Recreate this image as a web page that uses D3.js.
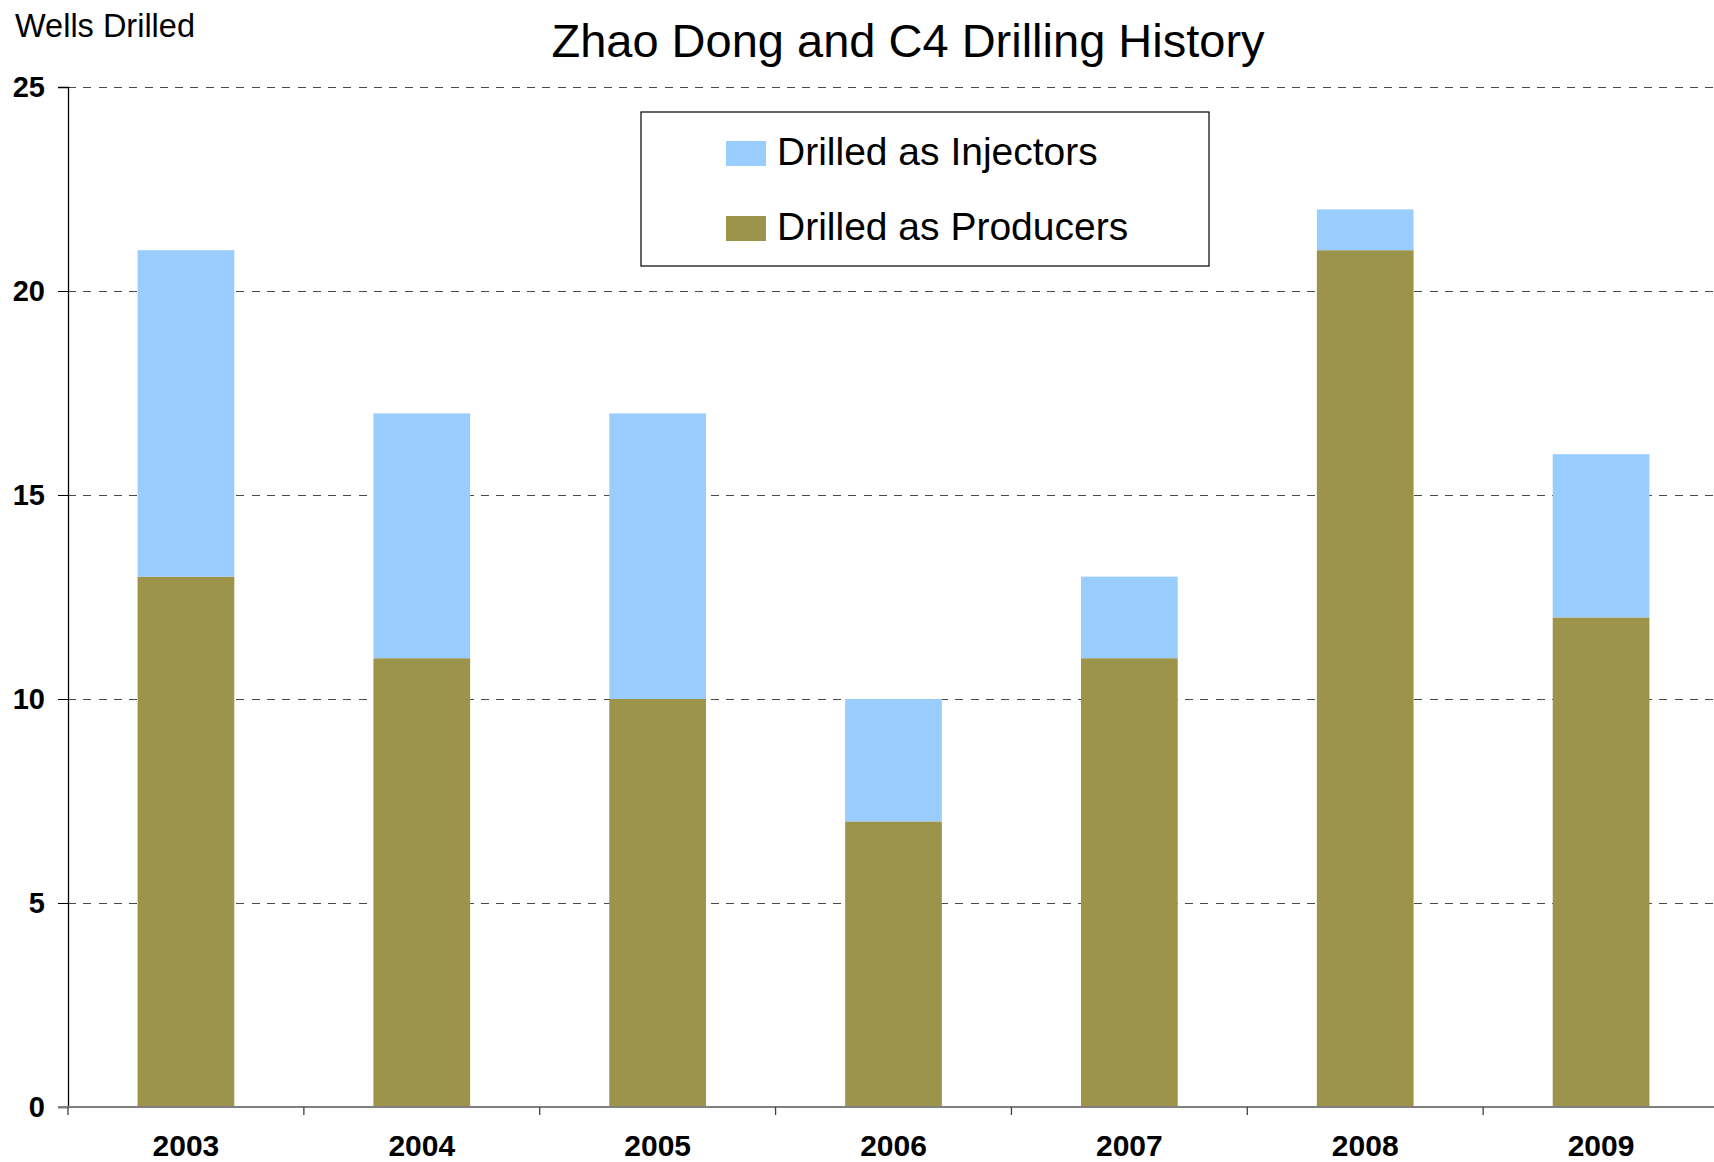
<!DOCTYPE html>
<html lang="en">
<head>
  <meta charset="UTF-8">
  <title>Zhao Dong and C4 Drilling History</title>
  <script src="https://d3js.org/d3.v7.min.js"></script>
  <style>
    body { margin: 0; background: #fff; }
    svg { font-family: "Liberation Sans", Arial, sans-serif; display: block; }
  </style>
</head>
<body>
  <svg id="chart"></svg>

  <script>
    // chart data
    const years = ["2003", "2004", "2005", "2006", "2007", "2008", "2009"];
    const producers = [13, 11, 10, 7, 11, 21, 12];
    const injectors = [8, 6, 7, 3, 2, 1, 4];
    const yTicks = [0, 5, 10, 15, 20, 25];
    const seriesNames = ["Drilled as Injectors", "Drilled as Producers"];

    const colors = { producers: "#9C944A", injectors: "#99CCFF" };

    const W = 1714, H = 1162;
    const margin = { top: 87, right: -5, bottom: 55, left: 68 };

    const svg = d3.select("#chart").attr("width", W).attr("height", H);

    const rows = years.map((y, i) => ({ year: y, producers: producers[i], injectors: injectors[i] }));
    const stacked = d3.stack().keys(["producers", "injectors"])(rows);

    // band for bars, plain band for tick positions
    const x = d3.scaleBand()
      .domain(years)
      .range([margin.left, W - margin.right])
      .paddingInner(0.59)
      .paddingOuter(0.295);

    const xTick = d3.scaleBand()
      .domain(years)
      .range([margin.left, W - margin.right]);

    const y = d3.scaleLinear()
      .domain([0, 25])
      .range([H - margin.bottom, margin.top]);

    // dashed gridlines
    svg.append("g")
      .selectAll("line")
      .data(yTicks.filter(d => d > 0))
      .enter().append("line")
      .attr("x1", margin.left)
      .attr("x2", W)
      .attr("y1", d => y(d) + 0.5)
      .attr("y2", d => y(d) + 0.5)
      .attr("stroke", "#4a4a4a")
      .attr("stroke-width", 1)
      .attr("stroke-dasharray", "8,7.3")
      .attr("shape-rendering", "crispEdges");

    // bars
    svg.append("g")
      .selectAll("g")
      .data(stacked)
      .enter().append("g")
      .attr("fill", d => colors[d.key])
      .selectAll("rect")
      .data(d => d)
      .enter().append("rect")
      .attr("x", d => x(d.data.year))
      .attr("width", x.bandwidth())
      .attr("y", d => y(d[1]))
      .attr("height", d => y(d[0]) - y(d[1]));

    // y axis
    const yAxis = svg.append("g")
      .attr("transform", `translate(${margin.left},0)`)
      .call(d3.axisLeft(y).tickValues(yTicks).tickSize(10).tickPadding(13));
    yAxis.select(".domain").attr("stroke", "#000").attr("stroke-width", 1.3);
    yAxis.selectAll(".tick line").attr("stroke", "#000");
    yAxis.selectAll("text")
      .style("font-size", "29px")
      .style("font-weight", "bold")
      .attr("fill", "#000");

    // x axis line and ticks
    const baseY = y(0);
    svg.append("line")
      .attr("x1", margin.left - 10)
      .attr("x2", W)
      .attr("y1", baseY)
      .attr("y2", baseY)
      .attr("stroke", "#808080")
      .attr("stroke-width", 2);

    svg.append("g")
      .selectAll("line")
      .data(d3.range(years.length + 1))
      .enter().append("line")
      .attr("x1", i => margin.left + i * xTick.step())
      .attr("x2", i => margin.left + i * xTick.step())
      .attr("y1", baseY)
      .attr("y2", baseY + 8)
      .attr("stroke", "#404040")
      .attr("stroke-width", 1.3);

    svg.append("g")
      .selectAll("text")
      .data(years)
      .enter().append("text")
      .attr("x", d => x(d) + x.bandwidth() / 2)
      .attr("y", baseY + 49)
      .attr("text-anchor", "middle")
      .style("font-size", "30px")
      .style("font-weight", "bold")
      .text(d => d);

    // title and axis label
    svg.append("text")
      .attr("x", 908)
      .attr("y", 57)
      .attr("text-anchor", "middle")
      .style("font-size", "47px")
      .text("Zhao Dong and C4 Drilling History");

    svg.append("text")
      .attr("x", 15)
      .attr("y", 37)
      .style("font-size", "32.5px")
      .text("Wells Drilled");

    // legend
    const legend = svg.append("g");
    legend.append("rect")
      .attr("x", 641)
      .attr("y", 112)
      .attr("width", 568)
      .attr("height", 154)
      .attr("fill", "#fff")
      .attr("stroke", "#000")
      .attr("stroke-width", 1.2);

    const legendColors = [colors.injectors, colors.producers];
    const item = legend.selectAll("g.item")
      .data(seriesNames)
      .enter().append("g")
      .attr("class", "item")
      .attr("transform", (d, i) => `translate(726, ${141 + i * 75})`);
    item.append("rect")
      .attr("width", 40)
      .attr("height", 25)
      .attr("fill", (d, i) => legendColors[i]);
    item.append("text")
      .attr("x", 51)
      .attr("y", 23.5)
      .style("font-size", "39px")
      .text(d => d);
  </script>
</body>
</html>
